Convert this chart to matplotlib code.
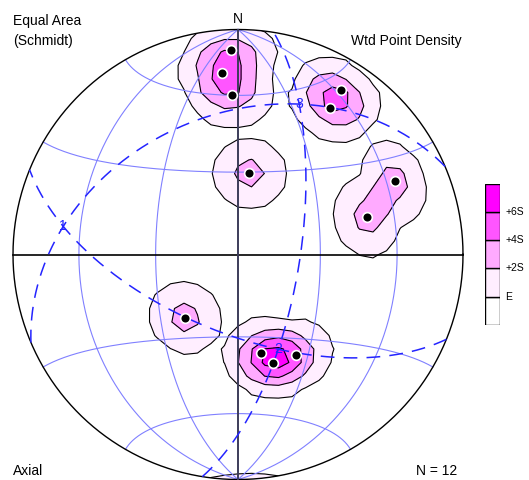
import numpy as np
import matplotlib
matplotlib.use("Agg")
import matplotlib.pyplot as plt
from matplotlib.patches import Circle

plt.rcParams['font.family'] = ['Liberation Sans', 'DejaVu Sans']

# Axial measurements (lower hemisphere), degrees
trend = [358, 355, 358, 32, 32, 65, 74, 8, 220, 167, 150, 162]
plunge = [10, 20, 30, 15, 24, 24, 40, 60, 60, 53, 47, 48]

# Contour levels in standard deviations above the expected density
level_sigmas = [0, 2, 4, 6]
level_labels = ['E', '+2S', '+4S', '+6S']
fill_colors = ['#ffeeff', '#ffaaff', '#ff55ff', '#ff00ff']

# Net grid (degrees)
meridian_dips = [30, 60]
latitudes = [-60, -30, 30, 60]

# Weighting cone half-angle for the point density (degrees)
cone_angle = 15.0

W, H, DPI = 529, 480, 100
CX, CY, RPX = 238.0, 254.5, 225.0


def to_vec(tr, pl):
    tr = np.radians(np.asarray(tr, float))
    pl = np.radians(np.asarray(pl, float))
    return np.stack([np.cos(pl) * np.cos(tr), np.cos(pl) * np.sin(tr), np.sin(pl)], -1)


def project(v):
    """Lambert equal-area projection of (north, east, down) vectors."""
    v = np.atleast_2d(v)
    s = np.sqrt(1.0 + v[:, 2])
    return v[:, 1] / s, v[:, 0] / s


def great_circle(normal, n=721):
    normal = normal / np.linalg.norm(normal)
    a = np.cross(normal, [0.0, 0.0, 1.0])
    if np.linalg.norm(a) < 1e-9:
        a = np.array([1.0, 0.0, 0.0])
    a /= np.linalg.norm(a)
    b = np.cross(normal, a)
    if b[2] < 0:
        b = -b
    t = np.linspace(0, np.pi, n)
    v = np.outer(np.cos(t), a) + np.outer(np.sin(t), b)
    return project(v)


def weight(cos_abs):
    """Weight falling linearly with angle to zero at the cone edge."""
    ang = np.arccos(np.clip(cos_abs, -1, 1))
    return np.clip(1.0 - ang / np.radians(cone_angle), 0.0, None)


fig = plt.figure(figsize=(W / DPI, H / DPI), dpi=DPI)
pad = 1.03
hp = RPX * pad
ax = fig.add_axes([(CX - hp) / W, (H - CY - hp) / H, 2 * hp / W, 2 * hp / H])
ax.set_xlim(-pad, pad)
ax.set_ylim(-pad, pad)
ax.axis('off')

data = to_vec(trend, plunge)
npts = len(data)

# Weighted point density on a grid of the net
g = np.linspace(-1.14, 1.14, 39)
X, Y = np.meshgrid(g, g)
r2 = X ** 2 + Y ** 2
D = np.clip(1.0 - r2, -1.0, 1.0)
s = np.sqrt(np.clip(2.0 - r2, 0.0, None))
G = np.stack([Y * s, X * s, D], -1)
G /= np.linalg.norm(G, axis=-1, keepdims=True)
dens = weight(np.abs(G @ data.T)).sum(-1)

# Expected value and spread for a uniform distribution of the same size
cu = np.linspace(0.0, 1.0, 200001)
wu = weight(cu)
expected = npts * wu.mean()
sigma = np.sqrt(npts * wu.var())
levels = [expected + n * sigma for n in level_sigmas]

clip = Circle((0, 0), 1.0, transform=ax.transData, facecolor='none', edgecolor='none')
ax.add_patch(clip)
cf = ax.contourf(X, Y, dens, levels=levels + [max(dens.max(), levels[-1]) + 1],
                 colors=fill_colors, zorder=1)
cf.set_clip_path(clip)
cl = ax.contour(X, Y, dens, levels=levels, colors='black', linewidths=0.8, zorder=2)
cl.set_clip_path(clip)

# Net: meridians and small circles
gcol = '#8080ff'
s_ = np.linspace(0, np.pi, 361)
for dip in meridian_dips:
    ang = np.radians(dip)
    for sgn in (1, -1):
        v = np.stack([np.cos(s_), sgn * np.sin(s_) * np.cos(ang), np.sin(s_) * np.sin(ang)], -1)
        x, y = project(v)
        ax.plot(x, y, color=gcol, lw=0.8, zorder=3)
for lat in latitudes:
    lam = np.radians(lat)
    v = np.stack([np.full_like(s_, np.sin(lam)), np.cos(lam) * np.cos(s_), np.cos(lam) * np.sin(s_)], -1)
    x, y = project(v)
    ax.plot(x, y, color=gcol, lw=0.8, zorder=3)

# Primitive and diameters
t = np.linspace(0, 2 * np.pi, 721)
ax.plot(np.cos(t), np.sin(t), color='black', lw=1.0, zorder=4)
ax.plot([-1, 1], [0, 0], color='black', lw=1.2, zorder=4)
ax.plot([0, 0], [-1, 1], color='#3c3c5a', lw=1.4, zorder=4)

# Eigenvectors of the orientation tensor and their principal planes
T = data.T @ data
evals, evecs = np.linalg.eigh(T)
blue = '#2424ff'
for i in range(3):
    x, y = great_circle(evecs[:, i])
    ax.plot(x, y, color=blue, lw=1.1, ls=(0, (9, 6)), zorder=5)
for i in range(3):
    v = evecs[:, i].copy()
    if v[2] < 0:
        v = -v
    x, y = project(v)
    ax.text(x[0], y[0], str(i + 1), color=blue, fontsize=10, ha='center', va='center', zorder=7)

# Data points
px, py = project(data)
ax.plot(px, py, 'o', ms=7, mfc='black', mec='white', mew=1.2, zorder=6)

# Text
def ftext(x, y, s, **kw):
    fig.text(x / W, 1 - y / H, s, fontsize=10, va='center', **kw)

ftext(13, 21, 'Equal Area', ha='left')
ftext(13, 41, '(Schmidt)', ha='left')
ftext(462, 41, 'Wtd Point Density', ha='right')
ftext(CX, 19, 'N', ha='center')
ftext(13, 471, 'Axial', ha='left')
ftext(457, 471, f'N = {npts}', ha='right')

# Legend of density levels
lax = fig.add_axes([485 / W, (H - 325) / H, 15 / W, 141.5 / H])
lax.set_xlim(0, 1)
lax.set_ylim(0, 5)
lax.axis('off')
for j, c in enumerate(['white'] + fill_colors):
    lax.bar(0.5, 1, bottom=j, width=1, color=c, edgecolor='black', linewidth=1.0)
for j, lab in enumerate(level_labels):
    lax.text(1.35, j + 1, lab, fontsize=7.5, ha='left', va='center', clip_on=False)

fig.savefig('out.png', dpi=DPI)
